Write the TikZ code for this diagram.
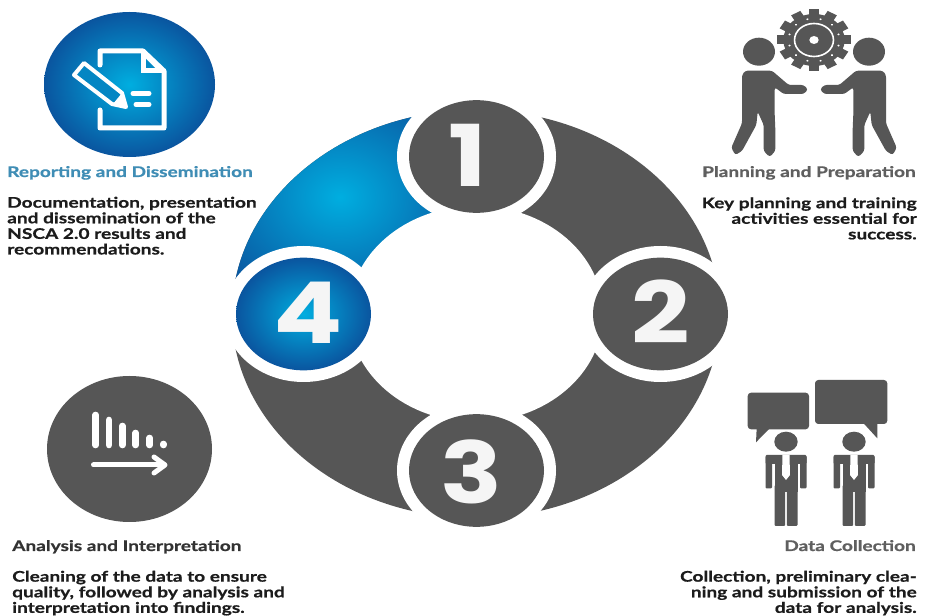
\documentclass[tikz,border=0pt]{standalone}
\usepackage{graphicx}
\usepackage{fontspec}
\setmainfont[FakeStretch=1.3,BoldFeatures={FakeBold=0.7}]{Lato}
\newfontfamily\digitfont[FakeStretch=1.2]{Poppins}
\usetikzlibrary{shapes.geometric}
\definecolor{ringgrey}{HTML}{565656}
\definecolor{bluein}{HTML}{00AEE0}
\definecolor{blueout}{HTML}{0A559F}
\definecolor{titleblue}{HTML}{3F8DB5}
\definecolor{titlegrey}{HTML}{5F5F5F}
\definecolor{bodyblack}{HTML}{1C1C1C}
\tikzset{
  x=0.75pt,y=-0.75pt,
  greydisc/.style={ellipse,draw=none,fill=ringgrey,inner sep=0pt,minimum width=101.25pt,minimum height=84.5pt},
  bluedisc/.style={ellipse,draw=none,inner sep=0pt,minimum width=101.25pt,minimum height=84.5pt,shade,inner color=bluein,outer color=blueout},
  digit/.style={inner sep=0pt,text=white!96!black,font=\digitfont\bfseries\fontsize{64}{64}\selectfont},
  titletext/.style={inner sep=0pt,font=\bfseries\fontsize{11}{11.7}\selectfont},
  bodytext/.style={inner sep=0pt,text=bodyblack,font=\bfseries\fontsize{11}{11.7}\selectfont},
  iconline/.style={draw=white,line width=3.75pt,line cap=round,line join=round},
}
\newcommand{\halo}[1]{\fill[white] #1 ellipse [x radius=79.5,y radius=68];}
\begin{document}
\begin{tikzpicture}
\useasboundingbox (0,0) rectangle (933,616);
\fill[white] (0,0) rectangle (933,616);
% ring
\fill[ringgrey] (476,314) ellipse [x radius=244,y radius=204];
\begin{scope}
  \clip (476,314) -- (476,60) -- (200,60) -- (200,314) -- cycle;
  \clip (476,314) ellipse [x radius=244,y radius=204];
  \shade[inner color=bluein,outer color=blueout] (340,197) ellipse [x radius=145,y radius=120];
\end{scope}
\fill[white] (476,314) ellipse [x radius=127,y radius=108];
\halo{(476.5,156.5)}\halo{(660.5,314)}\halo{(476.5,470.5)}\halo{(303.5,314)}
% numbered discs
\node[greydisc] (c1) at (476.5,156.5) {};
\node[greydisc] (c2) at (660.5,314) {};
\node[greydisc] (c3) at (476.5,470.5) {};
\node[bluedisc] (c4) at (303.5,314) {};
\node[digit] (d1) at (468,155.7) {1};
\node[digit] (d2) at (661,312) {2};
\node[digit] (d3) at (471.5,471.7) {3};
\node[digit] (d4) at (308,312.5) {4};
% reporting icon
\node[ellipse,inner sep=0pt,minimum width=128.25pt,minimum height=108.75pt,shade,inner color=bluein,outer color=blueout] (rep) at (129.5,84.5) {};
\draw[iconline] (100,65) -- (100,51) -- (143,51) -- (164,71) -- (164,128) -- (100,128) -- (100,110);
\fill[white] (141,50) -- (141,73) -- (165,73) -- cycle;
\fill[blueout!40!bluein] (146,59) -- (146,68) -- (155,68) -- cycle;
\draw[draw=white,line width=3pt,line join=round,fill=bluein!55!blueout] (74,75) -- (84,63) -- (122,93) -- (126,107) -- (112,104) -- cycle;
\fill[white] (126,108) -- (113,104) -- (122,93) -- cycle;
\draw[iconline] (133,93.5) -- (149,93.5);
\draw[iconline] (136,104.5) -- (149,104.5);
% analysis icon
\node[ellipse,inner sep=0pt,fill=ringgrey,minimum width=123.75pt,minimum height=109.5pt] (ana) at (129.5,449) {};
\foreach \xx/\yy in {95.7/415,109/420,122.3/426,135.7/433,149.7/438,163.3/444}
  \draw[white,line width=5pt,line cap=round] (\xx,\yy) -- (\xx,445);
\draw[white,line width=3.75pt,line cap=round,line join=round] (93.5,465) -- (164.5,465);
\draw[white,line width=3.75pt,line cap=round,line join=round] (154,457) -- (165,465) -- (154,473);
% planning icon
\begin{scope}[shift={(814,40)},xscale=1.18]
  \fill[ringgrey] (0,0) circle [radius=26];
  \foreach \a in {0,30,...,330}
    \fill[ringgrey,rotate=\a] (-4.5,-31) rectangle (4.5,-24);
  \foreach \a in {15,45,...,345}
    \fill[white,rotate=\a] (0,-21.5) circle [radius=1];
  \draw[white,line width=1.2pt] (0,0) circle [radius=16.5];
  \foreach \a in {0,30,...,330}
    \fill[ringgrey,rotate=\a] (-2,-15) rectangle (2,-10);
  \fill[white] (0,0) circle [radius=4];
\end{scope}
\foreach \side/\sx in {left/1,right/-1}{
  \begin{scope}[shift={(814,0)},xscale=\sx]
    \fill[ringgrey] (-55,51.7) ellipse [x radius=16,y radius=14];
    \fill[ringgrey,rounded corners=1.8pt] (-72,75) -- (-68.7,70.7) -- (-42,70.7) -- (-25.3,85) -- (-10.3,85) -- (-6,89.5) -- (-10.3,94) -- (-30.3,94) -- (-39.3,87.3) -- (-39.3,115) -- (-38.7,128.3) -- (-38.7,151) -- (-44.3,157) -- (-50.3,151) -- (-50.3,125) -- (-56.3,111.7) -- (-57.7,125) -- (-72,151) -- (-78.7,155) -- (-82.7,147.7) -- (-72,123.3) -- cycle;
  \end{scope}
}
% data collection icon
\fill[ringgrey,rounded corners=2.5pt] (747.7,392.7) rectangle (809,429.3);
\fill[ringgrey] (756.7,428) -- (756,442.3) -- (770,428) -- cycle;
\fill[ringgrey,rounded corners=2.5pt] (815,380) rectangle (887.3,424);
\fill[ringgrey] (863.3,423) -- (877.3,438.3) -- (877.3,423) -- cycle;
\foreach \mx in {786,854}{
  \begin{scope}[shift={(\mx,0)}]
    \fill[ringgrey] (0,441.7) ellipse [x radius=11.7,y radius=10];
    \fill[ringgrey,rounded corners=.8pt] (-20.5,455) rectangle (20.5,464);
    \fill[ringgrey,rounded corners=.8pt] (-20.5,456) rectangle (-14,488.5);
    \fill[ringgrey,rounded corners=.8pt] (14,456) rectangle (20.5,488.5);
    \fill[ringgrey] (-11.5,456) rectangle (11.5,492);
    \fill[ringgrey,rounded corners=.8pt] (-11.5,485) rectangle (-0.8,526);
    \fill[ringgrey,rounded corners=.8pt] (0.8,485) rectangle (11.5,526);
    \fill[white] (-3.5,455) -- (3.5,455) -- (4,475) -- (0,480) -- (-4,475) -- cycle;
  \end{scope}
}
% texts
\node[titletext,text=titleblue,anchor=base west] (t4) at (7,177) {Reporting and Dissemination};
\node[bodytext,anchor=north west,align=left] (b4) at (7,196.5) {Documentation, presentation\\and dissemination of the\\NSCA 2.0 results and\\recommendations.};
\node[titletext,text=titlegrey,anchor=base east] (t1) at (916,177) {Planning and Preparation};
\node[bodytext,anchor=north east,align=right] (b1) at (917,197) {Key planning and training\\activities essential for\\success.};
\node[titletext,text=titlegrey,anchor=base east] (t2) at (916,551) {Data Collection};
\node[bodytext,anchor=north east,align=right] (b2) at (917,570.5) {Collection, preliminary clea-\\ning and submission of the\\data for analysis.};
\node[titletext,text=bodyblack!90!white,anchor=base west] (t3) at (12,551) {Analysis and Interpretation};
\node[bodytext,anchor=north west,align=left] (b3) at (12,570.5) {Cleaning of the data to ensure\\quality, followed by analysis and\\interpretation into findings.};
\end{tikzpicture}
\end{document}
